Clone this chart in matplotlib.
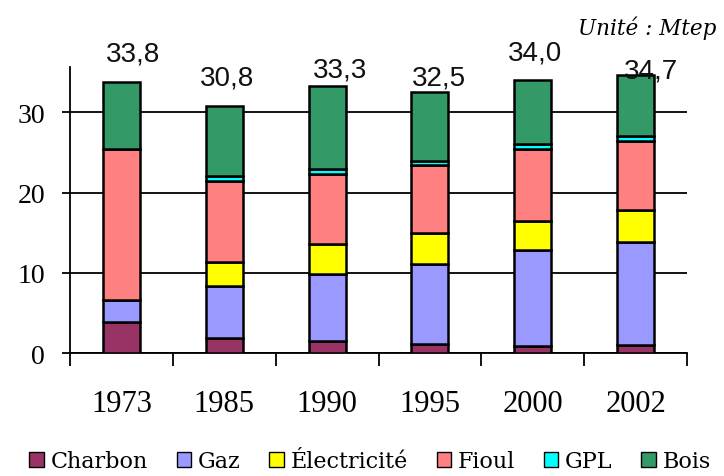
import matplotlib
matplotlib.use("Agg")
import matplotlib.pyplot as plt
import numpy as np

years = ["1973", "1985", "1990", "1995", "2000", "2002"]
sources = ["Charbon", "Gaz", "Électricité", "Fioul", "GPL", "Bois"]

charbon = [3.9, 1.9, 1.5, 1.2, 0.9, 1.0]
gaz = [2.7, 6.5, 8.4, 9.9, 12.0, 12.8]
electricite = [0.0, 3.0, 3.7, 3.9, 3.6, 4.0]
fioul = [18.9, 10.0, 8.7, 8.4, 8.9, 8.6]
gpl = [0.0, 0.7, 0.7, 0.6, 0.6, 0.6]
bois = [8.3, 8.7, 10.3, 8.5, 8.0, 7.7]
totals = [33.8, 30.8, 33.3, 32.5, 34.0, 34.7]
total_labels = ["33,8", "30,8", "33,3", "32,5", "34,0", "34,7"]

# where the total labels sit (value units / category offset)
label_y = [37.3, 34.4, 35.4, 34.4, 37.5, 35.2]
label_dx = [0.11, 0.03, 0.13, 0.09, 0.02, 0.15]

colors = ["#993366", "#9999FF", "#FFFF00", "#FF8080", "#00FFFF", "#339966"]

fig = plt.figure(figsize=(7.24, 4.77), dpi=100)
ax = fig.add_axes([70 / 724, 1 - 354.3 / 477, 617 / 724, 286.3 / 477])

x = np.arange(len(years))
bottom = np.zeros(len(years))
bars = []
for name, vals, col in zip(sources, [charbon, gaz, electricite, fioul, gpl, bois], colors):
    b = ax.bar(x, vals, 0.36, bottom=bottom, color=col, edgecolor="black",
               linewidth=1.8, label=name, zorder=3)
    bars.append(b)
    bottom += np.array(vals)

for i, txt in enumerate(total_labels):
    ax.text(x[i] + label_dx[i], label_y[i], txt, ha="center", va="center",
            family="Liberation Sans", fontsize=20, color="#111111", clip_on=False)

ax.set_xlim(-0.5, 5.5)
ax.set_ylim(0, 35.65)

# category separators as major ticks, year labels on minor ticks
ax.set_xticks(np.arange(-0.5, 6, 1))
ax.set_xticklabels([])
ax.set_xticks(x, minor=True)
ax.set_xticklabels(years, minor=True, family="Liberation Serif", fontsize=22)
ax.tick_params(axis="x", which="major", direction="out", length=9, width=1.3)
ax.tick_params(axis="x", which="minor", length=0, pad=26)

ax.set_yticks([0, 10, 20, 30])
ax.set_yticklabels(["0", "10", "20", "30"], family="Liberation Serif", fontsize=20)
ax.tick_params(axis="y", direction="out", length=6, width=1.3, pad=12)

ax.yaxis.grid(True, color="black", linewidth=1.3, zorder=0)
ax.set_axisbelow(True)
for s in ["top", "right"]:
    ax.spines[s].set_visible(False)
for s in ["left", "bottom"]:
    ax.spines[s].set_linewidth(1.3)

fig.text(578 / 724, 1 - 28 / 477, "Unité : Mtep", family="DejaVu Serif",
         style="italic", fontsize=15.5, va="center", ha="left")

leg = fig.legend(handles=bars, labels=sources, loc="center", ncol=6,
                 bbox_to_anchor=(370 / 724, 1 - 462 / 477), frameon=False,
                 borderaxespad=0, borderpad=0, handlelength=0.65, handleheight=0.65,
                 handletextpad=0.3, columnspacing=1.3,
                 prop={"family": "DejaVu Serif", "size": 16})
for h in leg.legend_handles:
    h.set_linewidth(1.0)

fig.savefig("out.png", dpi=100)
